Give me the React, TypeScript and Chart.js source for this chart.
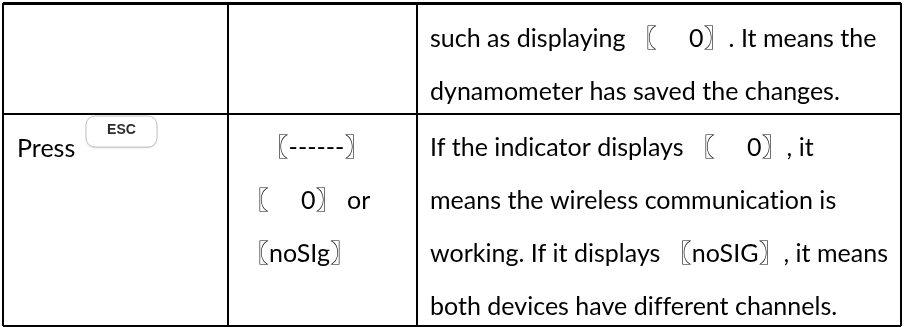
import React, { useEffect, useRef } from "react";
import { Chart, registerables } from "chart.js";

Chart.register(...registerables);

// ---- table structure (table units) ----
const COLUMN_EDGES = [0, 225, 414, 898];
const ROW_EDGES = [0, 111, 323];

// ---- table content ----
const ROW1_DESCRIPTION = [
  "such as displaying 〖     0〗. It means the",
  "dynamometer has saved the changes.",
];
const ROW2_ACTION = ["Press"];
const ROW2_KEY = "ESC";
const ROW2_DISPLAY = ["〖------〗", "〖     0〗 or", "〖noSIg〗"];
const ROW2_DESCRIPTION = [
  "If the indicator displays 〖     0〗, it",
  "means the wireless communication is",
  "working. If it displays 〖noSIG〗, it means",
  "both devices have different channels.",
];

const FONT = "25px Lato, 'Noto Sans CJK SC', sans-serif";
const LINE_PITCH = 53;

const tablePlugin = {
  id: "tableText",
  afterDraw(chart: any) {
    const { ctx, scales } = chart;
    const px = (v: number) => scales.x.getPixelForValue(v);
    const py = (v: number) => scales.y.getPixelForValue(v);
    ctx.save();
    ctx.fillStyle = "#000";
    ctx.font = FONT;
    ctx.textRendering = "optimizeSpeed";
    ctx.letterSpacing = "0.01px";
    ctx.textBaseline = "alphabetic";
    ctx.textAlign = "left";

    const r1 = py(ROW_EDGES[0]);
    ROW1_DESCRIPTION.forEach((t, i) => {
      ctx.fillText(t, px(COLUMN_EDGES[2]) + 13, r1 + 44 + i * LINE_PITCH);
    });

    const r2 = py(ROW_EDGES[1]);
    ROW2_ACTION.forEach((t, i) => {
      ctx.fillText(t, px(COLUMN_EDGES[0]) + 14, r2 + 43 + i * LINE_PITCH);
    });
    ROW2_DISPLAY.forEach((t, i) => {
      if (i === 0) {
        ctx.textAlign = "center";
        ctx.fillText(t, (px(COLUMN_EDGES[1]) + px(COLUMN_EDGES[2])) / 2 - 6, r2 + 42);
        ctx.textAlign = "left";
      } else {
        ctx.fillText(t, px(COLUMN_EDGES[1]) + 16, r2 + 42 + i * LINE_PITCH);
      }
    });
    ROW2_DESCRIPTION.forEach((t, i) => {
      ctx.fillText(t, px(COLUMN_EDGES[2]) + 13, r2 + 42 + i * LINE_PITCH);
    });

    // ESC key cap
    const bx = px(COLUMN_EDGES[0]) + 83;
    const by = r2 + 2;
    ctx.beginPath();
    ctx.roundRect(bx, by, 71, 31, 9);
    ctx.fillStyle = "#fff";
    ctx.shadowColor = "rgba(0,0,0,0.18)";
    ctx.shadowBlur = 2;
    ctx.shadowOffsetY = 1;
    ctx.fill();
    ctx.shadowColor = "transparent";
    ctx.strokeStyle = "#c4c4c4";
    ctx.lineWidth = 1;
    ctx.stroke();
    ctx.fillStyle = "#2b2b2b";
    ctx.font = "bold 14px 'Liberation Sans', Arial, sans-serif";
    ctx.textAlign = "center";
    ctx.textBaseline = "middle";
    ctx.fillText(ROW2_KEY, bx + 35.5, by + 14);
    ctx.restore();
  },
};

export default function App() {
  const ref = useRef<HTMLCanvasElement | null>(null);
  useEffect(() => {
    document.body.style.margin = "0";
    const canvas = ref.current;
    if (!canvas) return;
    const chart = new Chart(canvas, {
      type: "scatter",
      data: { datasets: [{ data: [], pointRadius: 0 }] },
      options: {
        animation: false,
        responsive: false,
        devicePixelRatio: 1,
        layout: { padding: { left: 3, top: 3, right: 5, bottom: 1 } },
        plugins: { legend: { display: false }, tooltip: { enabled: false } },
        events: [],
        scales: {
          x: {
            type: "linear",
            min: COLUMN_EDGES[0],
            max: COLUMN_EDGES[COLUMN_EDGES.length - 1],
            afterBuildTicks: (s: any) => {
              s.ticks = COLUMN_EDGES.map((v) => ({ value: v }));
            },
            ticks: { display: false },
            border: { display: false },
            grid: { color: "#000", lineWidth: 2, drawTicks: false },
          },
          y: {
            type: "linear",
            reverse: true,
            min: ROW_EDGES[0],
            max: ROW_EDGES[ROW_EDGES.length - 1],
            afterBuildTicks: (s: any) => {
              s.ticks = ROW_EDGES.map((v) => ({ value: v }));
            },
            ticks: { display: false },
            border: { display: false },
            grid: {
              color: "#000",
              lineWidth: (c: any) => (c.tick && c.tick.value === ROW_EDGES[0] ? 3 : 2),
              drawTicks: false,
            },
          },
        },
      },
      plugins: [tablePlugin],
    });
    return () => chart.destroy();
  }, []);
  return (
    <div style={{ position: "relative", width: 906, height: 327, background: "#fff" }}>
      <canvas ref={ref} width={906} height={327} style={{ display: "block" }} />
    </div>
  );
}
